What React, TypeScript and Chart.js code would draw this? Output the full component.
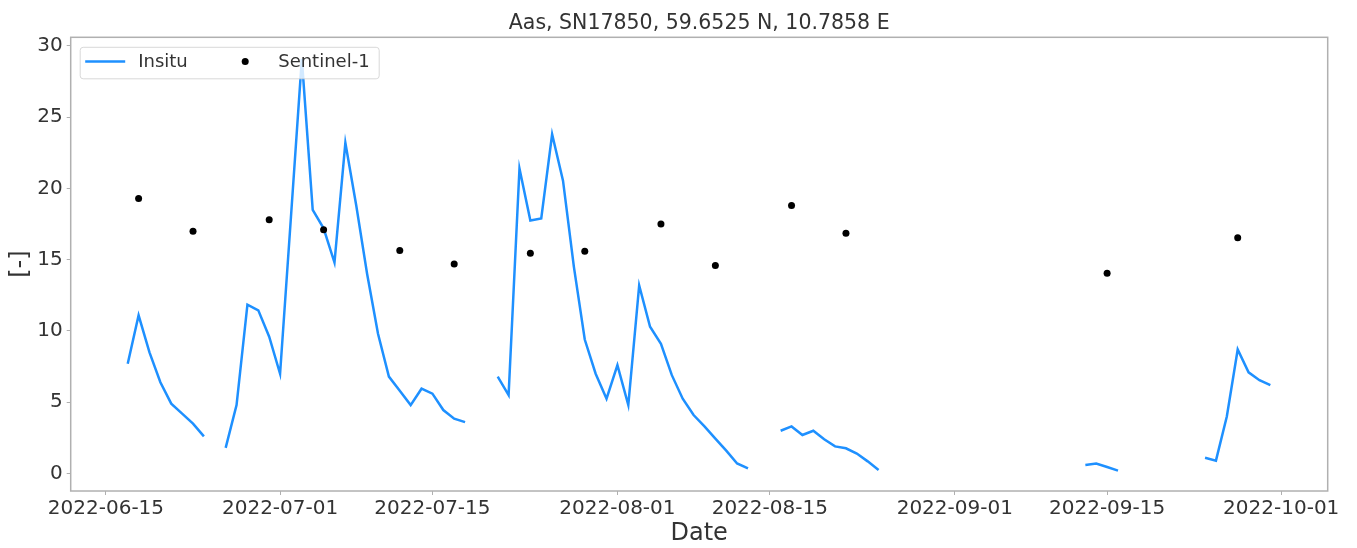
import React, { useEffect, useRef } from 'react';
import { Chart, registerables } from 'chart.js';

Chart.register(...registerables);

const TITLE = 'Aas, SN17850, 59.6525 N, 10.7858 E';
const X_LABEL = 'Date';
const Y_LABEL = '[-]';
const SERIES_INSITU = 'Insitu';
const SERIES_S1 = 'Sentinel-1';

const insituDates = [
  '2022-06-17', '2022-06-18', '2022-06-19', '2022-06-20', '2022-06-21', '2022-06-22', '2022-06-23', '2022-06-24', '2022-06-25',
  '2022-06-26', '2022-06-27', '2022-06-28', '2022-06-29', '2022-06-30', '2022-07-01', '2022-07-02', '2022-07-03', '2022-07-04',
  '2022-07-05', '2022-07-06', '2022-07-07', '2022-07-08', '2022-07-09', '2022-07-10', '2022-07-11', '2022-07-12', '2022-07-13',
  '2022-07-14', '2022-07-15', '2022-07-16', '2022-07-17', '2022-07-18', '2022-07-19',
  '2022-07-21', '2022-07-22', '2022-07-23', '2022-07-24', '2022-07-25', '2022-07-26', '2022-07-27', '2022-07-28', '2022-07-29',
  '2022-07-30', '2022-07-31', '2022-08-01', '2022-08-02', '2022-08-03', '2022-08-04', '2022-08-05', '2022-08-06', '2022-08-07',
  '2022-08-08', '2022-08-09', '2022-08-10', '2022-08-11', '2022-08-12', '2022-08-13', '2022-08-14',
  '2022-08-16', '2022-08-17', '2022-08-18', '2022-08-19', '2022-08-20', '2022-08-21', '2022-08-22', '2022-08-23', '2022-08-24',
  '2022-08-25', '2022-08-26',
  '2022-09-13', '2022-09-14', '2022-09-15', '2022-09-16', '2022-09-17',
  '2022-09-24', '2022-09-25', '2022-09-26', '2022-09-27', '2022-09-28', '2022-09-29', '2022-09-30',
];
const insituValues: (number | null)[] = [
  7.7, 11.1, 8.5, 6.4, 4.9, 4.2, 3.5, 2.6, null,
  1.8, 4.8, 11.85, 11.45, 9.6, 7.0, 18.0, 29.1, 18.5,
  17.2, 14.8, 23.2, 18.8, 14.0, 9.8, 6.8, 5.8, 4.8,
  5.95, 5.6, 4.45, 3.85, 3.6, null,
  6.8, 5.5, 21.4, 17.75, 17.9, 23.8, 20.55, 14.5, 9.4,
  7.0, 5.25, 7.6, 4.8, 13.2, 10.3, 9.1, 6.9, 5.25,
  4.1, 3.3, 2.45, 1.6, 0.7, 0.35, null,
  3.0, 3.3, 2.7, 3.0, 2.4, 1.9, 1.77, 1.4, 0.85,
  0.25, null,
  0.6, 0.7, 0.45, 0.2, null,
  1.1, 0.9, 4.0, 8.7, 7.1, 6.55, 6.2,
];

const s1Dates = [
  '2022-06-18', '2022-06-23', '2022-06-30', '2022-07-05', '2022-07-12', '2022-07-17', '2022-07-24',
  '2022-07-29', '2022-08-05', '2022-08-10', '2022-08-17', '2022-08-22', '2022-09-15', '2022-09-27',
];
const s1Values = [19.3, 17.0, 17.8, 17.1, 15.65, 14.7, 15.45, 15.6, 17.5, 14.6, 18.8, 16.85, 14.05, 16.55];

const xTickLabels = ['2022-06-15', '2022-07-01', '2022-07-15', '2022-08-01', '2022-08-15', '2022-09-01', '2022-09-15', '2022-10-01'];
const yTickValues = [0, 5, 10, 15, 20, 25, 30];

const X_MIN_DATE = '2022-06-15';
const X_MIN_OFFSET = -3.24;
const X_MAX_DATE = '2022-10-01';
const X_MAX_OFFSET = 4.27;
const Y_MIN = -1.23;
const Y_MAX = 30.61;

const FONT = '"DejaVu Sans", "Liberation Sans", sans-serif';
const TEXT_COLOR = '#333333';
const AXIS_COLOR = '#b0b0b0';
const LINE_COLOR = '#1E90FF';

const dayNum = (s: string) => {
  const [y, m, d] = s.split('-').map(Number);
  return Date.UTC(y, m - 1, d) / 86400000;
};
const fmtDay = (v: number) => new Date(Math.round(v) * 86400000).toISOString().slice(0, 10);

const framePlugin = {
  id: 'frameAndLegend',
  afterDatasetsDraw(chart: any) {
    const { ctx, chartArea } = chart;
    const { left, top, right, bottom } = chartArea;
    ctx.save();
    ctx.strokeStyle = AXIS_COLOR;
    ctx.lineWidth = 1.5;
    ctx.strokeRect(left, top, right - left, bottom - top);

    // legend (matplotlib-like, upper left, two columns)
    const bx = left + 9.5;
    const by = top + 10;
    const bw = 299;
    const bh = 31.5;
    const r = 3;
    ctx.beginPath();
    ctx.moveTo(bx + r, by);
    ctx.lineTo(bx + bw - r, by);
    ctx.arcTo(bx + bw, by, bx + bw, by + r, r);
    ctx.lineTo(bx + bw, by + bh - r);
    ctx.arcTo(bx + bw, by + bh, bx + bw - r, by + bh, r);
    ctx.lineTo(bx + r, by + bh);
    ctx.arcTo(bx, by + bh, bx, by + bh - r, r);
    ctx.lineTo(bx, by + r);
    ctx.arcTo(bx, by, bx + r, by, r);
    ctx.closePath();
    ctx.globalAlpha = 0.8;
    ctx.fillStyle = '#ffffff';
    ctx.fill();
    ctx.strokeStyle = '#d0d0d0';
    ctx.lineWidth = 1;
    ctx.stroke();
    ctx.globalAlpha = 1;

    const cy = by + 14.3;
    const ds0 = chart.data.datasets[0];
    const ds1 = chart.data.datasets[1];
    ctx.strokeStyle = ds0.borderColor;
    ctx.lineWidth = ds0.borderWidth;
    ctx.beginPath();
    ctx.moveTo(bx + 5, cy);
    ctx.lineTo(bx + 45, cy);
    ctx.stroke();

    ctx.font = `18px ${FONT}`;
    ctx.fillStyle = TEXT_COLOR;
    ctx.textBaseline = 'middle';
    ctx.textAlign = 'left';
    ctx.fillText(ds0.label, bx + 58, cy + 1);

    ctx.fillStyle = ds1.backgroundColor;
    ctx.beginPath();
    ctx.arc(bx + 165, cy, ds1.pointRadius, 0, Math.PI * 2);
    ctx.fill();

    ctx.fillStyle = TEXT_COLOR;
    ctx.fillText(ds1.label, bx + 198, cy + 1);
    ctx.restore();
  },
};

export default function App() {
  const canvasRef = useRef<HTMLCanvasElement | null>(null);

  useEffect(() => {
    const canvas = canvasRef.current;
    if (!canvas) return;
    const insituData = insituDates.map((d, i) => ({ x: dayNum(d), y: insituValues[i] }));
    const s1Data = s1Dates.map((d, i) => ({ x: dayNum(d), y: s1Values[i] }));

    const chart = new Chart(canvas, {
      type: 'line',
      data: {
        datasets: [
          {
            type: 'line',
            label: SERIES_INSITU,
            data: insituData as any,
            borderColor: LINE_COLOR,
            backgroundColor: LINE_COLOR,
            borderWidth: 2.5,
            pointRadius: 0,
            spanGaps: false,
            tension: 0,
            order: 2,
          },
          {
            type: 'scatter',
            label: SERIES_S1,
            data: s1Data as any,
            backgroundColor: '#000000',
            borderColor: '#000000',
            borderWidth: 0,
            pointRadius: 3.5,
            showLine: false,
            order: 1,
          } as any,
        ],
      },
      options: {
        animation: false,
        responsive: false,
        devicePixelRatio: 1,
        layout: { padding: { left: 0, right: 29.3, top: 0, bottom: 0 } },
        plugins: {
          legend: { display: false },
          tooltip: { enabled: false },
          title: {
            display: true,
            text: TITLE,
            fullSize: false,
            color: TEXT_COLOR,
            font: { family: FONT, size: 20.5, weight: 'normal' },
            padding: { top: 11.5, bottom: 1.2 },
          },
        },
        scales: {
          x: {
            type: 'linear',
            min: dayNum(X_MIN_DATE) + X_MIN_OFFSET,
            max: dayNum(X_MAX_DATE) + X_MAX_OFFSET,
            afterBuildTicks: (scale: any) => {
              scale.ticks = xTickLabels.map((l) => ({ value: dayNum(l) }));
            },
            afterFit: (scale: any) => {
              scale.height = 57;
            },
            ticks: {
              autoSkip: false,
              maxRotation: 0,
              padding: 2,
              color: TEXT_COLOR,
              font: { family: FONT, size: 20 },
              callback: (v: any) => fmtDay(Number(v)),
            },
            grid: { drawOnChartArea: false, drawTicks: true, tickLength: 4, color: AXIS_COLOR, lineWidth: 1 },
            border: { display: false },
            title: {
              display: true,
              text: X_LABEL,
              color: TEXT_COLOR,
              font: { family: FONT, size: 24 },
              padding: { top: 0, bottom: 0 },
            },
          },
          y: {
            type: 'linear',
            min: Y_MIN,
            max: Y_MAX,
            afterBuildTicks: (scale: any) => {
              scale.ticks = yTickValues.map((v) => ({ value: v }));
            },
            afterFit: (scale: any) => {
              scale.width = 70.7;
            },
            ticks: {
              padding: 4,
              color: TEXT_COLOR,
              font: { family: FONT, size: 20 },
            },
            grid: { drawOnChartArea: false, drawTicks: true, tickLength: 4, color: AXIS_COLOR, lineWidth: 1 },
            border: { display: false },
            title: {
              display: true,
              text: Y_LABEL,
              color: TEXT_COLOR,
              font: { family: FONT, size: 24 },
              padding: { top: 6.3, bottom: 0 },
            },
          },
        },
      },
      plugins: [framePlugin],
    });
    return () => chart.destroy();
  }, []);

  return (
    <div style={{ position: 'absolute', left: 0, top: 0, width: 1357, height: 548, background: '#ffffff' }}>
      <canvas ref={canvasRef} width={1357} height={548} style={{ display: 'block' }} />
    </div>
  );
}
